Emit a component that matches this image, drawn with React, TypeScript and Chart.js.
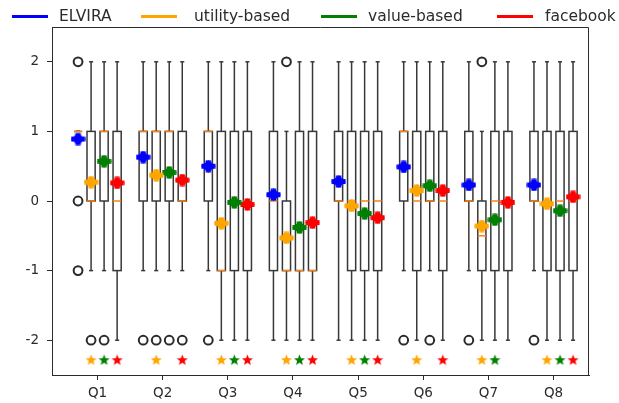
import React, { useEffect, useRef } from 'react';
import { Chart, registerables } from 'chart.js';

Chart.register(...registerables);

const categories = ['Q1', 'Q2', 'Q3', 'Q4', 'Q5', 'Q6', 'Q7', 'Q8'];
const methods = ['ELVIRA', 'utility-based', 'value-based', 'facebook'];
const methodColors = ['#0000ff', '#ffa500', '#008000', '#ff0000'];
const positionOffsets = [-0.3, -0.1, 0.1, 0.3];
const yTickValues = [-2, -1, 0, 1, 2];

// rows: ELVIRA, utility-based, value-based, facebook ; columns: Q1..Q8
const whiskerLow = [
  [1, -1, -1, -2, -2, -1, -1, -1],
  [-1, -1, -2, -2, -2, -2, -2, -2],
  [-1, -1, -2, -2, -2, -1, -2, -2],
  [-2, -1, -2, -2, -2, -2, -2, -2],
];
const lowerQuartile = [
  [1, 0, 0, -1, 0, 0, 0, 0],
  [0, 0, -1, -1, -1, -1, -1, -1],
  [0, 0, -1, -1, -1, 0, -1, -1],
  [-1, 0, -1, -1, -1, -1, -1, -1],
];
const medians = [
  [1, 1, 1, 0, 0, 1, 0, 0],
  [0, 1, -1, -1, 0, 0, -0.5, 0],
  [1, 1, 0, -1, 0, 0, 0, 0],
  [0, 0, 0, -1, 0, 0, 0, 0],
];
const upperQuartile = [
  [1, 1, 1, 1, 1, 1, 1, 1],
  [1, 1, 1, 0, 1, 1, 0, 1],
  [1, 1, 1, 1, 1, 1, 1, 1],
  [1, 1, 1, 1, 1, 1, 1, 1],
];
const whiskerHigh = [
  [1, 2, 2, 2, 2, 2, 2, 2],
  [2, 2, 2, 1, 2, 2, 1, 2],
  [2, 2, 2, 2, 2, 2, 2, 2],
  [2, 2, 2, 2, 2, 2, 2, 2],
];
const meanValues = [
  [0.89, 0.63, 0.5, 0.09, 0.28, 0.49, 0.23, 0.23],
  [0.27, 0.37, -0.32, -0.53, -0.07, 0.15, -0.36, -0.04],
  [0.57, 0.41, -0.02, -0.38, -0.18, 0.22, -0.27, -0.14],
  [0.26, 0.3, -0.05, -0.31, -0.24, 0.15, -0.02, 0.06],
];
const outliers = [
  [[2, 0, -1], [-2], [-2], [], [], [-2], [-2], [-2]],
  [[-2], [-2], [], [2], [], [], [2], []],
  [[-2], [-2], [], [], [], [-2], [], []],
  [[], [-2], [], [], [], [], [], []],
];
const significant = [
  [0, 0, 0, 0, 0, 0, 0, 0],
  [1, 1, 1, 1, 1, 1, 1, 1],
  [1, 0, 1, 1, 1, 0, 1, 1],
  [1, 1, 1, 1, 1, 1, 0, 1],
];
const starLevel = -2.28;
const boxWidth = 0.125;

const FONT = "'DejaVu Sans', sans-serif";
const INK = '#2b2b2b';
const BOX_INK = '#383838';

function plusMarker(color: string) {
  const w = 15;
  const hgt = 13;
  const c = document.createElement('canvas');
  c.width = w;
  c.height = hgt;
  const g = c.getContext('2d')!;
  g.fillStyle = color;
  const cx = w / 2;
  const cy = hgt / 2;
  const ax = 7;
  const ay = 6;
  const tx = 2.8;
  const ty = 2.6;
  g.beginPath();
  g.moveTo(cx - tx, cy - ay);
  g.lineTo(cx + tx, cy - ay);
  g.lineTo(cx + tx, cy - ty);
  g.lineTo(cx + ax, cy - ty);
  g.lineTo(cx + ax, cy + ty);
  g.lineTo(cx + tx, cy + ty);
  g.lineTo(cx + tx, cy + ay);
  g.lineTo(cx - tx, cy + ay);
  g.lineTo(cx - tx, cy + ty);
  g.lineTo(cx - ax, cy + ty);
  g.lineTo(cx - ax, cy - ty);
  g.lineTo(cx - tx, cy - ty);
  g.closePath();
  g.fill();
  g.beginPath();
  g.moveTo(cx, cy - ay * 1.05);
  g.lineTo(cx + ax * 1.05, cy);
  g.lineTo(cx, cy + ay * 1.05);
  g.lineTo(cx - ax * 1.05, cy);
  g.closePath();
  g.fill();
  return c;
}

function starMarker(color: string) {
  const s = 13;
  const c = document.createElement('canvas');
  c.width = s;
  c.height = s;
  const g = c.getContext('2d')!;
  g.fillStyle = color;
  const cx = s / 2;
  const cy = s / 2 + 0.5;
  const ro = 5.8;
  const ri = 2.5;
  g.beginPath();
  for (let k = 0; k < 10; k++) {
    const r = k % 2 === 0 ? ro : ri;
    const ang = -Math.PI / 2 + (k * Math.PI) / 5;
    const px = cx + r * Math.cos(ang);
    const py = cy + r * Math.sin(ang);
    if (k === 0) g.moveTo(px, py);
    else g.lineTo(px, py);
  }
  g.closePath();
  g.fill();
  return c;
}

const boxPlugin = {
  id: 'boxes',
  beforeDatasetsDraw(chart: any) {
    const { ctx, scales } = chart;
    const x = scales.x;
    const y = scales.y;
    const hw = (x.getPixelForValue(boxWidth) - x.getPixelForValue(0)) / 2;
    const cw = hw / 2;
    const line = (x1: number, y1: number, x2: number, y2: number) => {
      ctx.beginPath();
      ctx.moveTo(x1, y1);
      ctx.lineTo(x2, y2);
      ctx.stroke();
    };
    ctx.save();
    ctx.lineWidth = 1.5;
    methods.forEach((_, m) => {
      categories.forEach((__, i) => {
        const cx = x.getPixelForValue(i + 1 + positionOffsets[m]);
        const lo = y.getPixelForValue(whiskerLow[m][i]);
        const q1 = y.getPixelForValue(lowerQuartile[m][i]);
        const md = y.getPixelForValue(medians[m][i]);
        const q3 = y.getPixelForValue(upperQuartile[m][i]);
        const hi = y.getPixelForValue(whiskerHigh[m][i]);
        ctx.strokeStyle = BOX_INK;
        line(cx, lo, cx, q1);
        line(cx, q3, cx, hi);
        line(cx - cw, lo, cx + cw, lo);
        line(cx - cw, hi, cx + cw, hi);
        ctx.strokeRect(cx - hw, q3, 2 * hw, q1 - q3);
        ctx.strokeStyle = '#ff7f0e';
        line(cx - hw, md, cx + hw, md);
      });
    });
    ctx.restore();
  },
  afterDatasetsDraw(chart: any) {
    const { ctx, chartArea } = chart;
    ctx.save();
    ctx.strokeStyle = INK;
    ctx.lineWidth = 1;
    ctx.beginPath();
    ctx.moveTo(chartArea.left, chartArea.top + 0.5);
    ctx.lineTo(chartArea.right - 0.5, chartArea.top + 0.5);
    ctx.lineTo(chartArea.right - 0.5, chartArea.bottom);
    ctx.stroke();
    ctx.restore();
  },
};

const legendLineLeft = [12, 141, 321, 497];
const legendTextLeft = [59, 194, 368, 545];

export default function App() {
  const ref = useRef<HTMLCanvasElement>(null);

  useEffect(() => {
    document.body.style.margin = '0';
    const canvas = ref.current!;

    const flierData: { x: number; y: number }[] = [];
    outliers.forEach((row, m) =>
      row.forEach((vals, i) =>
        vals.forEach((v) => flierData.push({ x: i + 1 + positionOffsets[m], y: v }))
      )
    );

    const meanSets = methods.map((name, m) => ({
      label: name + ' mean',
      data: meanValues[m].map((v, i) => ({ x: i + 1 + positionOffsets[m], y: v })),
      pointStyle: plusMarker(methodColors[m]),
      pointRadius: 7,
      showLine: false,
    }));

    const starSets = methods.map((name, m) => ({
      label: name + ' significant',
      data: significant[m]
        .map((s, i) => (s ? { x: i + 1 + positionOffsets[m], y: starLevel } : null))
        .filter(Boolean),
      pointStyle: starMarker(methodColors[m]),
      pointRadius: 6,
      showLine: false,
    }));

    const tickFont = { family: FONT, size: 13.5 };

    const chart = new Chart(canvas, {
      type: 'scatter',
      data: {
        datasets: [
          {
            label: 'outliers',
            data: flierData,
            pointStyle: 'circle',
            pointRadius: 4.4,
            borderColor: '#2a2a2a',
            borderWidth: 2,
            backgroundColor: 'rgba(0,0,0,0)',
          },
          ...meanSets,
          ...starSets,
        ] as any,
      },
      options: {
        animation: false,
        responsive: false,
        devicePixelRatio: 1,
        layout: { padding: { top: 27, right: 30, left: 0, bottom: 0 } },
        plugins: { legend: { display: false }, tooltip: { enabled: false } },
        scales: {
          x: {
            type: 'linear',
            min: 0.3,
            max: 8.545,
            afterBuildTicks: (s: any) => {
              s.ticks = categories.map((_, i) => ({ value: i + 1 }));
            },
            afterFit: (s: any) => {
              s.height = 28;
            },
            ticks: {
              autoSkip: false,
              maxRotation: 0,
              padding: 5,
              color: INK,
              font: tickFont,
              callback: (v: any) => categories[Math.round(Number(v)) - 1],
            },
            grid: { drawOnChartArea: false, drawTicks: true, tickLength: 5, color: INK },
            border: { display: true, color: INK, width: 1 },
          },
          y: {
            type: 'linear',
            min: -2.5,
            max: 2.5,
            afterBuildTicks: (s: any) => {
              s.ticks = yTickValues.map((v) => ({ value: v }));
            },
            afterFit: (s: any) => {
              s.width = 52;
            },
            ticks: {
              padding: 8,
              color: INK,
              font: tickFont,
              callback: (v: any) => String(v),
            },
            grid: { drawOnChartArea: false, drawTicks: true, tickLength: 5, color: INK },
            border: { display: true, color: INK, width: 1 },
          },
        },
      } as any,
      plugins: [boxPlugin],
    });
    return () => chart.destroy();
  }, []);

  return (
    <div
      style={{
        position: 'fixed',
        left: 0,
        top: 0,
        width: 619,
        height: 403,
        background: '#fff',
        fontFamily: FONT,
        overflow: 'hidden',
      }}
    >
      <canvas ref={ref} width={619} height={403} style={{ position: 'absolute', left: 0, top: 0 }} />
      {methods.map((name, m) => (
        <React.Fragment key={name}>
          <div
            style={{
              position: 'absolute',
              left: legendLineLeft[m],
              top: 15,
              width: 36,
              height: 2.5,
              background: methodColors[m],
            }}
          />
          <div
            style={{
              position: 'absolute',
              left: legendTextLeft[m],
              top: 6,
              fontSize: 15.5,
              lineHeight: '20px',
              color: INK,
              whiteSpace: 'nowrap',
            }}
          >
            {name}
          </div>
        </React.Fragment>
      ))}
    </div>
  );
}
